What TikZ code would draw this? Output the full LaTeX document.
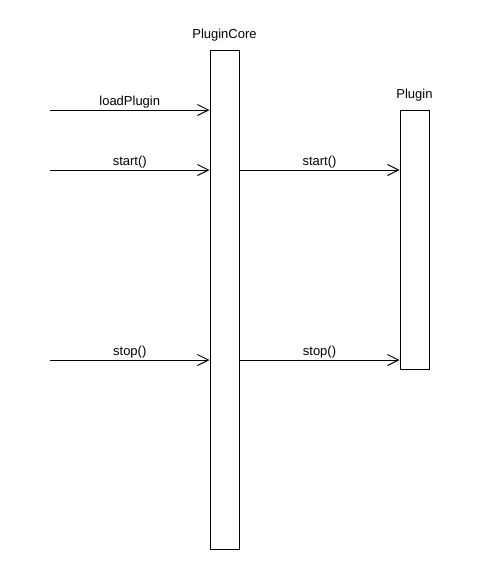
\documentclass[tikz,border=0pt]{standalone}
\usepackage{fontspec}
\setmainfont{Liberation Sans}
\usetikzlibrary{arrows.meta,positioning}
\tikzset {>={Straight Barb[length=11pt,width=11pt]}}
\tikzset{lifebox/.style={draw,line width=1pt,minimum width=29pt,inner sep=0pt},
  msg/.style={above,inner sep=1pt}}

\begin{document}
\begin{tikzpicture}[x=1pt,y=-1pt,line width=1pt,font=\fontsize{13}{15}\selectfont]
\useasboundingbox (0,0) rectangle (500,570);
% lifelines
\node (core) [lifebox,minimum height=499pt] at (224.5,299.5) {};
\node (plugin) [lifebox,minimum height=259pt] at (414.5,239.5) {};
\node (corename) [above=8pt,inner sep=0pt] at (core.north) {PluginCore};
\node (pluginname) [above=8pt,inner sep=0pt] at (plugin.north) {Plugin};
% free ends of incoming messages
\coordinate (load) at (50,110);
\coordinate (startin) at (50,170);
\coordinate (stopin) at (50,360);
\coordinate (startout) at (core.east |- startin);
\coordinate (stopout) at (core.east |- stopin);
% messages
\draw[->] (load) -- node[msg] {loadPlugin} (load -| core.west);
\draw[->] (startin) -- node[msg] {start()} (startin -| core.west);
\draw[->] (stopin) -- node[msg] {stop()} (stopin -| core.west);
\draw[->] (startout) -- node[msg] {start()} (startout -| plugin.west);
\draw[->] (stopout) -- node[msg] {stop()} (stopout -| plugin.west);
\end{tikzpicture}
\end{document}
